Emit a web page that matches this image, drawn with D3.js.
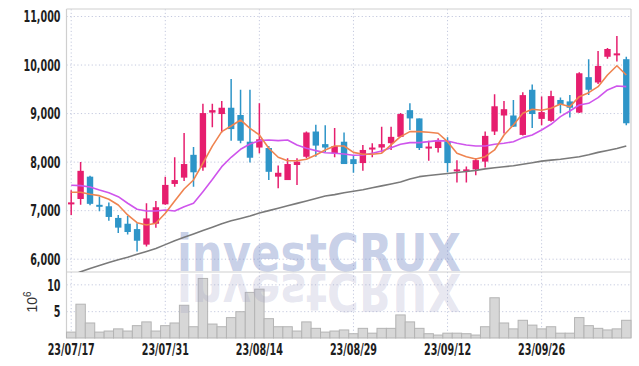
<!DOCTYPE html>
<html><head><meta charset="utf-8">
<script src="https://cdn.jsdelivr.net/npm/d3@7"></script>
<style>body{margin:0;background:#fff} svg{display:block}</style>
</head><body><svg id="c" width="639" height="366"></svg>
<script>
const dates = ["23/07/17","23/07/18","23/07/19","23/07/20","23/07/21","23/07/24","23/07/25","23/07/26","23/07/27","23/07/28",
"23/07/31","23/08/01","23/08/02","23/08/03","23/08/04","23/08/07","23/08/08","23/08/09","23/08/10","23/08/11",
"23/08/14","23/08/16","23/08/17","23/08/18","23/08/21","23/08/22","23/08/23","23/08/24","23/08/25","23/08/28",
"23/08/29","23/08/30","23/08/31","23/09/01","23/09/04","23/09/05","23/09/06","23/09/07","23/09/08","23/09/11",
"23/09/12","23/09/13","23/09/14","23/09/15","23/09/18","23/09/19","23/09/20","23/09/21","23/09/22","23/09/25",
"23/09/26","23/09/27","23/10/04","23/10/05","23/10/06","23/10/10","23/10/11","23/10/12","23/10/13","23/10/16"];
const opens  = [7150,7230,7690,7110,7080,6840,6720,6610,6290,6720,7120,7540,7670,8140,7880,9010,8980,9110,8960,8410,
8290,8280,7690,7620,7930,8100,8620,8360,8170,8410,8050,7970,8250,8290,8380,8510,9060,8890,8280,8280,
8420,7810,7810,7840,8000,8620,8950,8950,8550,9480,8880,8840,9270,9240,9010,9740,9630,10160,10200,10110];
const highs  = [7410,7990,7710,7280,7160,6900,6880,6730,7140,7190,7690,8090,8590,8300,9190,9190,9250,9700,9480,9480,
9200,8320,7920,8070,8070,8620,8760,8750,8690,8600,8130,8340,8380,8720,8720,9000,9200,8890,8430,8480,
8500,8030,7900,8070,8620,9390,9250,9270,9430,9590,9340,9460,9320,9370,9840,10110,10280,10340,10590,10160];
const lows   = [6900,7110,7100,6980,6780,6530,6500,6150,6250,6640,7110,7480,7600,7480,7810,8710,8600,8430,8380,7980,
8170,7620,7450,7620,7520,8070,8100,8200,8090,7950,7770,7810,8090,8190,8240,8500,8650,8240,8020,8190,
7780,7570,7570,7720,7880,8550,8580,8720,8540,8690,8750,8820,9000,8910,9000,9370,9600,10120,10060,8750];
const closes = [7160,7810,7130,7070,6860,6640,6550,6370,6830,7060,7520,7620,7950,7780,9000,9060,9110,8670,8430,8080,
8460,7790,7770,7950,8000,8600,8330,8290,8320,7950,7950,8240,8290,8360,8510,8980,8890,8280,8310,8420,
7970,7840,7840,8030,8530,9140,9080,8720,9370,8980,9020,9350,9170,9110,9820,9480,9970,10320,10230,8790];
const volumes = [1.1,6.3,2.8,1.1,1.3,1.7,1.3,2.3,3.0,1.3,2.3,2.8,6.1,2.1,11.1,2.6,2.1,3.8,4.9,8.5,
9.1,3.6,2.1,2.1,1.3,3.0,1.8,1.1,1.3,1.5,0.8,1.8,0.9,1.8,1.8,4.3,3.0,1.8,0.8,0.55,
0.9,0.9,0.8,0.55,2.1,7.5,2.8,1.7,3.3,2.4,1.7,2.1,0.9,0.9,3.8,2.3,1.8,1.5,1.7,3.3];
const maShort = [7368,7368,7327,7299,7224,7107,6901,6742,6695,6730,6935,7189,7436,7622,7966,8320,8617,8734,8858,8686,
8549,8275,8089,8019,8019,8048,8137,8240,8322,8322,8190,8151,8151,8172,8343,8514,8617,8617,8604,8584,
8411,8172,8102,8054,8102,8240,8549,8755,8996,9078,9057,9098,9187,9132,9338,9420,9544,9785,9976,9785];
const maMid = [7512,7505,7477,7416,7360,7278,7142,7018,6983,6983,7004,6983,7072,7142,7381,7630,7896,8089,8254,8363,
8432,8446,8432,8446,8343,8275,8226,8184,8172,8157,8130,8137,8172,8219,8287,8357,8391,8391,8411,8432,
8425,8378,8343,8322,8322,8357,8378,8411,8494,8549,8652,8769,8926,9043,9167,9201,9317,9476,9558,9544];
const maLong = [5650,5730,5800,5860,5920,5980,6030,6090,6150,6210,6290,6370,6440,6510,6580,6650,6720,6780,6830,6880,
6940,6990,7040,7090,7140,7190,7240,7290,7320,7360,7390,7420,7460,7500,7540,7580,7640,7690,7715,7735,
7755,7775,7795,7820,7850,7875,7895,7915,7945,7975,8010,8030,8050,8075,8100,8140,8190,8230,8270,8320];
const priceTicks = [6000,7000,8000,9000,10000,11000];
const volTicks = [5,10];
const dateTicks = ["23/07/17","23/07/31","23/08/14","23/08/29","23/09/12","23/09/26"];

const L=66.5, R=631, pTop=9, pBot=272, vTop=272, vBot=338;
const UP="#e61e6e", DOWN="#2e95c8";
const FONT="'DejaVu Sans',sans-serif";
const svg=d3.select("#c");
const x=d3.scaleBand().domain(dates).range([L,R]).padding(0);
const bw=x.bandwidth();
const cx=d=>x(d)+bw/2;
const y=d3.scaleLinear().domain([5726,11144]).range([pBot,pTop]);
const yv=d3.scaleLinear().domain([0,12.3]).range([vBot,vTop]);

svg.append("defs").append("clipPath").attr("id","pc").append("rect")
  .attr("x",L).attr("y",pTop).attr("width",R-L).attr("height",pBot-pTop);

// grids + axes
const gy=svg.append("g").attr("transform",`translate(${L},0)`)
  .call(d3.axisLeft(y).tickValues(priceTicks).tickFormat(d3.format(",")).tickSize(-(R-L)).tickPadding(6));
const gv=svg.append("g").attr("transform",`translate(${L},0)`)
  .call(d3.axisLeft(yv).tickValues(volTicks).tickSize(-(R-L)).tickPadding(6));
const gx=svg.append("g").attr("transform",`translate(0,${vBot})`)
  .call(d3.axisBottom(x).tickValues(dateTicks).tickSize(-(vBot-pTop)).tickPadding(6));
[gy,gv,gx].forEach(g=>{
  g.select(".domain").remove();
  g.selectAll(".tick line").attr("stroke","#c4c9de").attr("stroke-dasharray","1.2,2.4").attr("stroke-width",1);
  g.selectAll(".tick text").attr("fill","#1e1e1e").style("font-family",FONT).style("font-weight","bold").style("font-size","16px")
    .each(function(){ const n=this.getComputedTextLength(); d3.select(this).attr("textLength",n*0.6).attr("lengthAdjust","spacingAndGlyphs"); });
});
gy.selectAll(".tick text").attr("dy","0.36em");
gv.selectAll(".tick text").attr("dy","0.36em");
gx.selectAll(".tick text").attr("y",16.5).attr("dy",0);

// frame
const fr=svg.append("g").attr("stroke","#cfcfcf").attr("stroke-width",1.2);
fr.append("line").attr("x1",L).attr("x2",R).attr("y1",pTop).attr("y2",pTop);
fr.append("line").attr("x1",L).attr("x2",L).attr("y1",pTop).attr("y2",vBot);
fr.append("line").attr("x1",R).attr("x2",R).attr("y1",pTop).attr("y2",vBot);
fr.append("line").attr("x1",L).attr("x2",R).attr("y1",pBot).attr("y2",pBot);

// volume bars
svg.append("g").selectAll("rect").data(dates).join("rect")
  .attr("x",d=>x(d)).attr("width",bw)
  .attr("y",(d,i)=>yv(volumes[i])).attr("height",(d,i)=>yv(0)-yv(volumes[i]))
  .attr("fill","#d7d7d7").attr("stroke","#b4b4b4").attr("stroke-width",1);

// watermark
const wm=svg.append("g").style("font-family","'DejaVu Sans',sans-serif").style("font-weight","bold").style("font-size","51px");
wm.append("text").attr("x",177).attr("y",271).attr("textLength",284).attr("lengthAdjust","spacingAndGlyphs")
  .attr("fill","#8496cc").attr("fill-opacity",0.46).text("investCRUX");
wm.append("text").attr("x",177).attr("y",271).attr("textLength",284).attr("lengthAdjust","spacingAndGlyphs")
  .attr("transform","translate(0,545) scale(1,-1)")
  .attr("fill","#9a9ac0").attr("fill-opacity",0.24).text("investCRUX");

// 10^6 label
const ul=svg.append("text").attr("transform","translate(37,302) rotate(-90)").attr("text-anchor","middle")
  .attr("fill","#333").style("font-family","'Liberation Sans',sans-serif").style("font-size","14px");
ul.append("tspan").text("10");
ul.append("tspan").attr("dy","-6").style("font-size","10px").text("6");

// candles
const cg=svg.append("g").attr("clip-path","url(#pc)");
const col=i=>closes[i]>=opens[i]?UP:DOWN;
cg.selectAll("line").data(dates).join("line")
  .attr("x1",d=>cx(d)).attr("x2",d=>cx(d))
  .attr("y1",(d,i)=>y(highs[i])).attr("y2",(d,i)=>y(lows[i]))
  .attr("stroke",(d,i)=>col(i)).attr("stroke-width",1.5);
cg.selectAll("rect").data(dates).join("rect")
  .attr("x",d=>cx(d)-3.2).attr("width",6.4)
  .attr("y",(d,i)=>y(Math.max(opens[i],closes[i])))
  .attr("height",(d,i)=>Math.max(2,Math.abs(y(opens[i])-y(closes[i]))))
  .attr("fill",(d,i)=>col(i));

// moving averages
const mk=arr=>d3.line().x((d,i)=>cx(dates[i])).y(d=>y(d)).curve(d3.curveLinear)(arr);
const lg=svg.append("g").attr("clip-path","url(#pc)").attr("fill","none").attr("stroke-width",1.6).attr("stroke-linejoin","round");
lg.append("path").attr("d",mk(maLong)).attr("stroke","#7a7a7a");
lg.append("path").attr("d",mk(maMid)).attr("stroke","#cf55ec");
lg.append("path").attr("d",mk(maShort)).attr("stroke","#ef8450");
</script></body></html>
